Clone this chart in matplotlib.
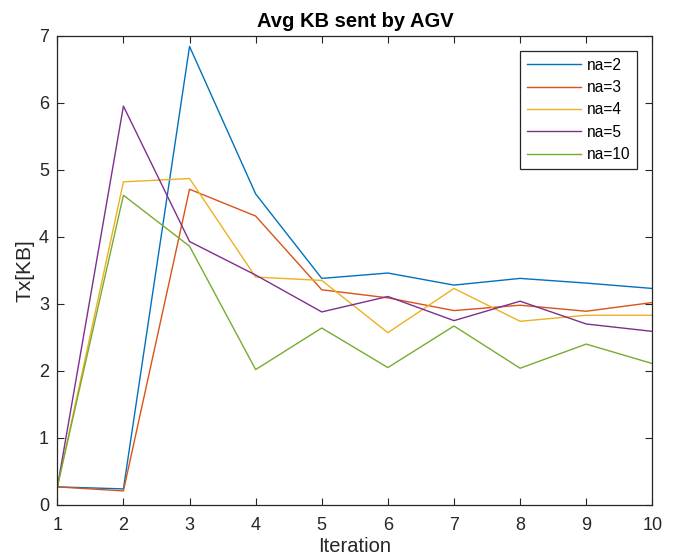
import numpy as np
import matplotlib.pyplot as plt

plt.rcParams['font.family'] = ['Liberation Sans', 'DejaVu Sans']

# -------------------
# Data
# -------------------

iteration = [1, 2, 3, 4, 5, 6, 7, 8, 9, 10]

na2 = [0.27, 0.24, 6.84, 4.64, 3.38, 3.46, 3.28, 3.38, 3.31, 3.23]
na3 = [0.27, 0.21, 4.71, 4.31, 3.21, 3.09, 2.90, 2.98, 2.89, 3.02]
na4 = [0.26, 4.82, 4.87, 3.40, 3.35, 2.57, 3.23, 2.74, 2.83, 2.83]
na5 = [0.26, 5.95, 3.93, 3.43, 2.88, 3.11, 2.75, 3.04, 2.70, 2.59]
na10 = [0.27, 4.62, 3.86, 2.02, 2.64, 2.05, 2.67, 2.04, 2.40, 2.11]

series = [na2, na3, na4, na5, na10]
labels = ["na=2", "na=3", "na=4", "na=5", "na=10"]

# matlab default colour order
colors = [
    (0, 0.447, 0.741),
    (0.85, 0.325, 0.098),
    (0.929, 0.694, 0.125),
    (0.494, 0.184, 0.556),
    (0.466, 0.674, 0.188),
]

dark = (0.15, 0.15, 0.15)

# -------------------
# Plot
# -------------------

fig = plt.figure(figsize=(6.75, 5.58), dpi=100)
ax = fig.add_axes([0.0849, 0.095, 0.8815, 0.841])

for y, lab, c in zip(series, labels, colors):
    ax.plot(iteration, y, color=c, linewidth=1.0, label=lab)

ax.set_xlim(1, 10)
ax.set_ylim(0, 7)
ax.set_xticks(iteration)
ax.set_yticks(range(0, 8))

ax.tick_params(
    direction="in",
    top=True,
    right=True,
    length=5,
    width=0.8,
    color=dark,
    labelcolor=dark,
    labelsize=13,
)
ax.tick_params(axis="x", pad=9)
ax.tick_params(axis="y", pad=6)

for s in ax.spines.values():
    s.set_color(dark)
    s.set_linewidth(0.9)

ax.set_title("Avg KB sent by AGV", fontsize=14.5, fontweight="bold", pad=6)
ax.set_xlabel("Iteration", fontsize=14.5, color=dark, labelpad=1.5)
ax.set_ylabel("Tx[KB]", fontsize=15, color=dark, labelpad=3)

leg = ax.legend(
    loc="upper right",
    bbox_to_anchor=(0.975, 0.968),
    borderaxespad=0,
    fontsize=11.2,
    handlelength=3.5,
    handletextpad=0.37,
    labelspacing=0.47,
    borderpad=0.45,
    fancybox=False,
    edgecolor=dark,
    framealpha=1,
)
leg.get_frame().set_linewidth(0.9)

fig.savefig("out.png", dpi=100)
